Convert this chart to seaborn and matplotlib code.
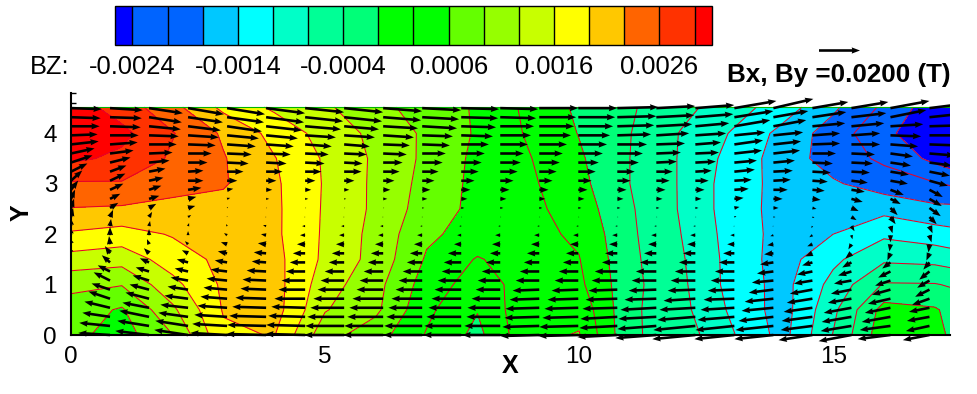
import numpy as np
import matplotlib
matplotlib.use("Agg")
import matplotlib.pyplot as plt
from matplotlib.patches import Rectangle
from matplotlib.ticker import MultipleLocator
import seaborn as sns

# --- flood field BZ, unit 1e-4 T, rows bottom to top ---
x_grid = [0, 1, 2, 3, 4, 5, 6, 7, 8, 9, 10, 11, 12, 13, 14, 15, 16, 17, 17.3]
y_grid = [0, 0.5, 1, 1.5, 2, 2.5, 3, 3.5, 4, 4.52]
bz_y00 = [7, 4.5, 9.3, 18.7, 19.5, 10.6, 7.5, 2.4, -1.6, 5.2, 6.2, -3.5, -5.5, -10.3, -15.2, -7.2, 1.5, 0.2, -1]
bz_y05 = [7.8, 5.6, 12, 19.6, 20.8, 12.9, 10, 3.4, -0.5, 5.3, 5, -3.3, -6.3, -11.2, -15.5, -8.1, 0.6, -0.3, -1.5]
bz_y10 = [10.2, 9.5, 15, 19.9, 20.7, 14.2, 10.4, 4.5, 1, 4.2, 3.4, -3, -6.6, -11.8, -15.2, -9.6, -3.7, -3.8, -4.3]
bz_y15 = [14.7, 14, 17.6, 20.2, 20.4, 15.3, 11.5, 5.6, 2.4, 4.4, 2.8, -3.2, -6.9, -11.8, -15.5, -11.4, -7.9, -8.3, -8.8]
bz_y20 = [18.9, 18, 19.6, 20.3, 20, 15.5, 11.6, 6.6, 4.7, 3.7, 2.1, -3.4, -7.3, -12, -15.2, -14, -11.3, -12.5, -13]
bz_y25 = [22.5, 22.2, 21.9, 21.5, 20, 15.6, 12, 7.7, 5.1, 3.6, 1.1, -3.6, -7.6, -12.3, -15.2, -15.5, -15, -16.5, -16.5]
bz_y30 = [25.6, 25.7, 23.6, 23, 19.9, 15.7, 12, 8.2, 5.1, 3.3, 0.3, -4, -7.6, -12.3, -15.1, -16.9, -19, -20.4, -21]
bz_y35 = [30, 28.6, 25.5, 22.9, 19.5, 15.6, 12.1, 8.6, 5.2, 2.9, -0.2, -4, -7.6, -11.8, -15.5, -18.9, -21.3, -24.9, -26]
bz_y40 = [31.5, 30.2, 26.2, 22.2, 18.3, 14.7, 11.8, 8.7, 5.6, 2.3, -0.8, -3.9, -7.5, -10.9, -15, -18.9, -23.2, -26.5, -27]
bz_y45 = [31, 27.8, 23.7, 18.5, 15.4, 13.2, 10.3, 7.9, 5.6, 1.9, -1.3, -3.6, -6.3, -9.1, -12.3, -16.7, -21.3, -26, -27]

# --- contour levels (unit 1e-4 T) and flood colours ---
levels_e4 = [-24, -20.67, -17.33, -14, -10.67, -7.33, -4, -0.67, 2.67, 6, 9.33, 12.67, 16, 19.33, 22.67, 26, 29.33]
flood_rgb = [(0, 0, 255), (0, 100, 255), (0, 100, 255), (0, 200, 255), (0, 255, 255), (0, 255, 200),
             (0, 255, 150), (0, 255, 120), (0, 255, 0), (0, 255, 0), (100, 255, 0), (150, 255, 0),
             (200, 255, 0), (255, 255, 0), (255, 200, 0), (255, 100, 0), (255, 50, 0), (255, 0, 0)]
bar_ticks = [-0.0024, -0.0014, -0.0004, 0.0006, 0.0016, 0.0026]
x_ticks = [0, 5, 10, 15]
y_ticks = [0, 1, 2, 3, 4]

# --- vector field, unit 0.5 mT, one list per column, rows from y=4.5 down to y=0 ---
arrow_dx = 0.768
arrow_dy = 0.18
bx_columns = [
    [30, 29, 28, 26, 27, 23, 21, 16, 11, 7, 4, 3, 2, -1, -2, -3, -4, -7, -10, -13, -15, -18, -21, -23, -25, -27],
    [32, 31, 30, 28, 27, 23, 20, 16, 15, 13, 10, 8, 3, 1, 0, -1, -5, -8, -12, -16, -18, -21, -25, -27, -30, -31],
    [33, 32, 31, 29, 27, 23, 20, 16, 14, 12, 10, 7, 3, 1, 0, -2, -5, -9, -13, -16, -19, -23, -26, -29, -31, -33],
    [35, 34, 32, 30, 27, 23, 19, 15, 15, 13, 8, 7, 3, 1, 0, -3, -6, -11, -13, -17, -20, -23, -27, -29, -32, -33],
    [37, 36, 34, 31, 28, 24, 21, 16, 10, 6, 3, 1, 0, -1, -3, -6, -9, -12, -16, -20, -23, -26, -29, -32, -34, -36],
    [38, 37, 35, 31, 27, 24, 20, 16, 10, 6, 3, 1, -1, -3, -5, -8, -12, -14, -19, -23, -25, -30, -33, -36, -38, -39],
    [38, 37, 35, 30, 26, 23, 19, 16, 10, 6, 3, 1, -1, -3, -5, -8, -12, -15, -19, -23, -26, -30, -33, -36, -38, -39],
    [38, 37, 34, 30, 25, 22, 18, 17, 10, 5, 2, 1, -1, -3, -5, -8, -12, -15, -19, -23, -26, -30, -33, -36, -38, -39],
    [38, 37, 34, 30, 26, 23, 19, 16, 11, 7, 4, 1, -1, -3, -5, -8, -12, -15, -19, -23, -26, -30, -33, -35, -38, -39],
    [38, 36, 34, 30, 27, 23, 20, 16, 12, 8, 5, 2, 0, -2, -5, -8, -12, -15, -19, -23, -26, -30, -33, -35, -37, -38],
    [37, 36, 34, 31, 27, 23, 20, 17, 13, 9, 6, 3, 1, -2, -4, -7, -13, -17, -19, -23, -26, -29, -32, -34, -36, -37],
    [37, 35, 33, 30, 27, 23, 20, 17, 13, 9, 6, 3, 1, -2, -5, -8, -10, -14, -18, -22, -24, -28, -32, -33, -35, -37],
    [38, 36, 34, 31, 27, 23, 20, 17, 13, 9, 6, 3, 1, -2, -5, -8, -12, -15, -19, -23, -26, -29, -33, -34, -36, -38],
    [38, 36, 34, 31, 28, 24, 20, 17, 13, 9, 6, 3, 1, -2, -5, -8, -12, -15, -19, -23, -26, -30, -33, -35, -38, -39],
    [40, 38, 36, 33, 29, 25, 21, 17, 13, 9, 6, 3, 1, -2, -5, -8, -12, -15, -22, -25, -28, -31, -34, -36, -37, -39],
    [38, 37, 35, 32, 28, 24, 20, 16, 13, 9, 6, 3, 1, -2, -5, -8, -12, -16, -20, -24, -27, -31, -35, -37, -38, -40],
    [38, 37, 33, 30, 25, 23, 20, 16, 13, 9, 6, 3, 1, -2, -5, -8, -12, -16, -20, -24, -27, -31, -35, -37, -41, -42],
    [41, 38, 35, 30, 28, 27, 22, 20, 17, 14, 9, 5, 2, -1, -4, -7, -11, -15, -19, -23, -26, -30, -33, -36, -38, -39],
    [39, 34, 32, 29, 27, 26, 21, 19, 17, 14, 9, 5, 2, -1, -3, -6, -9, -13, -16, -21, -24, -28, -31, -34, -37, -38],
    [35, 33, 32, 27, 27, 23, 20, 18, 15, 12, 8, 4, 2, -1, -3, -5, -7, -10, -15, -18, -22, -25, -28, -30, -31, -33],
    [36, 34, 32, 28, 28, 23, 21, 18, 16, 13, 11, 7, 5, 3, 1, -3, -6, -9, -13, -17, -20, -23, -27, -29, -30, -32],
    [38, 35, 32, 30, 27, 22, 20, 18, 17, 13, 10, 7, 5, 2, 0, -1, -3, -8, -12, -15, -18, -22, -25, -28, -30, -32],
    [40, 38, 33, 31, 28, 25, 22, 20, 18, 13, 12, 11, 7, 3, 2, -1, -3, -6, -10, -12, -14, -17, -20, -22, -23, -26],
]
by_columns = [
    [-1, -1, 0, 1, 3, 5, 7, 8, 10, 9, 9, 9, 9, 9, 9, 8, 8, 7, 7, 6, 6, 5, 4, 3, 3, 2],
    [-2, -1, -1, 0, 2, 3, 5, 6, 7, 6, 5, 5, 7, 7, 8, 8, 7, 7, 6, 8, 6, 7, 6, 4, 3, 2],
    [-5, -5, -3, -1, 0, 1, 2, 3, 3, 4, 3, 4, 5, 5, 6, 5, 5, 4, 4, 5, 5, 6, 5, 6, 5, 4],
    [-6, -5, -4, -2, -1, 0, 0, 1, 0, 2, 2, 2, 2, 3, 4, 3, 3, 3, 3, 3, 3, 3, 3, 4, 5, 5],
    [-6, -5, -5, -3, -2, -1, -1, 0, 0, 1, 1, 1, 1, 2, 2, 2, 2, 2, 2, 2, 2, 2, 2, 2, 2, 2],
    [-5, -5, -4, -3, -2, -1, -1, 0, 0, 0, 0, 0, 0, 1, 1, 1, 1, 1, 1, 1, 1, 1, 1, 1, 1, 1],
    [-4, -4, -3, -2, -2, -1, -1, 0, 0, 0, 0, 0, 0, 0, 0, 0, 0, 0, 0, 0, 0, 0, 1, 1, 1, 1],
    [-4, -4, -3, -2, -2, -1, -1, 0, 0, 0, 0, 0, 0, 0, 0, 0, 0, 0, 0, 0, 0, 0, 0, 0, 0, 0],
    [-3, -3, -2, -2, -1, -1, 0, 0, 0, 0, 0, 0, 0, 0, 0, 0, 0, 0, 0, 0, 0, 0, 0, 0, 0, 0],
    [-2, -2, -2, -1, -1, 0, 0, 0, 0, 0, 0, 0, 0, 0, 0, 0, 0, 0, 0, 0, 0, 0, 0, 0, 0, 0],
    [-1, -1, -1, -1, 0, 0, 0, 0, 0, 0, 0, 0, 0, 0, 0, 0, 0, 0, 0, 0, 0, 0, 0, 0, 0, 0],
    [-1, -1, 0, 0, 0, 0, 0, 0, 0, 0, 0, 0, 0, 0, 0, 0, 0, 0, 0, 0, 0, 0, 0, 0, 0, 0],
    [0, 0, 0, 0, 0, 0, 0, 0, 0, 0, 0, 0, 0, 0, 0, 0, 0, 0, 0, 0, -1, -1, -1, -1, -1, -1],
    [0, 0, 0, 0, 0, 0, 0, 0, 0, 0, 0, 0, 0, 0, 0, 0, 0, 0, 0, 0, -1, -1, -1, -1, -1, -1],
    [1, 1, 1, 1, 0, 0, 0, 0, 0, 0, 0, 0, 0, 0, 0, 0, 0, 0, 0, 0, -1, -1, -1, -2, -2, -2],
    [2, 2, 2, 2, 1, 1, 1, 0, 0, 0, 0, 0, 0, 0, 0, 0, 0, 0, 0, 0, -1, -1, -2, -2, -3, -3],
    [3, 3, 3, 2, 2, 1, 1, 1, 0, 0, 0, 0, 0, 0, 0, 0, 0, 0, 0, 0, -1, -2, -2, -3, -4, -4],
    [7, 6, 6, 3, 4, 3, 2, 2, 1, 1, 1, 1, 1, 0, 0, 0, 0, 0, 0, 0, -1, -1, -2, -3, -4, -4],
    [9, 6, 6, 3, 3, 3, 2, 1, 1, 0, 0, 0, 0, 0, -1, -1, -1, -2, -2, -2, -3, -3, -3, -4, -4, -4],
    [6, 5, 3, 2, 1, 0, -1, -1, -1, -1, -1, -1, -1, -2, -2, -2, -3, -3, -3, -3, -4, -4, -4, -4, -4, -5],
    [6, 4, 3, 2, 0, -1, -1, -1, -2, -2, -3, -3, -3, -5, -4, -5, -5, -5, -4, -3, -4, -4, -5, -5, -5, -6],
    [7, 7, 2, -1, -2, -3, -3, -3, -3, -5, -5, -7, -7, -7, -7, -7, -7, -6, -6, -5, -5, -5, -5, -5, -4, -4],
    [5, 4, 1, 0, -1, -2, -3, -4, -5, -7, -7, -8, -7, -7, -7, -8, -7, -7, -8, -7, -7, -6, -4, -4, -5, -5],
]
key_value = 0.02

sns.set_theme(style="ticks", rc={"axes.unicode_minus": False, "axes.linewidth": 1.5})
plt.rcParams["font.family"] = ["Liberation Sans", "DejaVu Sans"]

W, H = 977, 394
fig = plt.figure(figsize=(W / 100, H / 100), dpi=100, facecolor="white")
ax = fig.add_axes([71 / W, (H - 335) / H, (950 - 71) / W, (335 - 93) / H])

Z = np.array([bz_y00, bz_y05, bz_y10, bz_y15, bz_y20, bz_y25, bz_y30, bz_y35, bz_y40, bz_y45]) * 1e-4
levels = np.array(levels_e4) * 1e-4
palette = sns.color_palette([tuple(c / 255 for c in rgb) for rgb in flood_rgb])

cf = ax.contourf(x_grid, y_grid, Z, levels=levels, colors=palette, extend="both")
ax.contour(x_grid, y_grid, Z, levels=levels, colors="#e6002a", linewidths=0.75, linestyles="solid")
ax.plot([x_grid[0], x_grid[-1]], [y_grid[-1], y_grid[-1]], color="#00b400", lw=0.8)

bx = np.array(bx_columns) * 0.5e-3
by = np.array(by_columns) * 0.5e-3
n_cols, n_rows = bx.shape
qx, qy = np.meshgrid(np.arange(n_cols) * arrow_dx, 4.5 - np.arange(n_rows) * arrow_dy, indexing="ij")
q = ax.quiver(qx, qy, bx, by, units="dots", angles="uv", scale_units="dots", scale=0.02 / 41,
              width=2.6, headwidth=2.4, headlength=3.2, headaxislength=3.0, minlength=0.3,
              color="black", pivot="tail", zorder=4)
q.set_clip_path(Rectangle((0, -0.3), 17.3, 6, transform=ax.transData))
ax.quiverkey(q, 838.5 / W, (H - 50) / H, key_value, "", coordinates="figure", labelsep=0)

ax.set_xlim(0, 17.3)
ax.set_ylim(0, 4.8)
ax.set_xticks(x_ticks)
ax.set_yticks(y_ticks)
ax.xaxis.set_minor_locator(MultipleLocator(1))
ax.yaxis.set_minor_locator(MultipleLocator(0.2))
ax.tick_params(which="major", direction="in", length=7, width=1.2, labelsize=17.5, pad=8, color="black", labelcolor="black")
ax.tick_params(which="minor", direction="in", length=3.5, width=1, color="black")
ax.tick_params(axis="y", which="major", pad=10)
sns.despine(ax=ax)
for s in ("left", "bottom"):
    ax.spines[s].set_color("black")
    ax.spines[s].set_zorder(5)

fig.text(510 / W, (H - 366) / H, "X", fontsize=18, fontweight="bold", ha="center", va="center", color="black")
fig.text(22 / W, (H - 213) / H, "Y", fontsize=18, fontweight="bold", rotation=90, ha="center", va="center", color="black")
fig.text(30 / W, (H - 67) / H, "BZ:", fontsize=18.4, ha="left", va="center", color="black")
fig.text(727 / W, (H - 75) / H, "Bx, By =0.0200 (T)", fontsize=18.7, fontweight="bold", ha="left", va="center", color="black")

cax = fig.add_axes([115 / W, (H - 45) / H, (712 - 115) / W, 39 / H])
cb = fig.colorbar(cf, cax=cax, orientation="horizontal", extend="both", extendrect=True,
                  extendfrac=0.031, drawedges=True, ticks=bar_ticks, format="%.4f")
cb.dividers.set_color("black")
cb.dividers.set_linewidth(1.0)
cb.outline.set_edgecolor("black")
cb.outline.set_linewidth(1.0)
cax.tick_params(length=0, labelsize=18.4, pad=7, labelcolor="black")
cax.minorticks_off()

fig.savefig("out.png", dpi=100, facecolor="white")
